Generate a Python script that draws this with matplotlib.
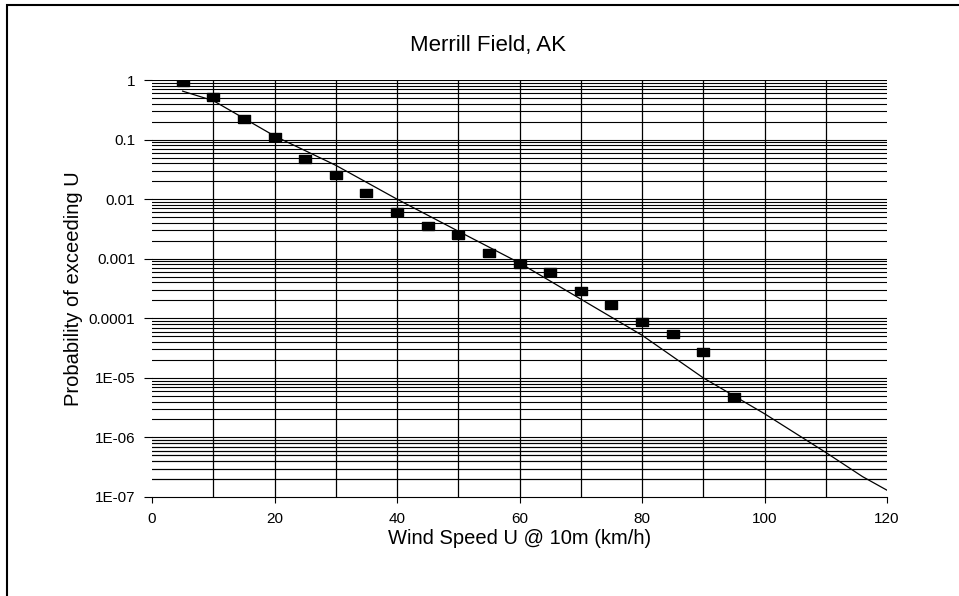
import matplotlib
matplotlib.use("Agg")
import matplotlib.pyplot as plt
from matplotlib.patches import Rectangle
from matplotlib.ticker import FixedLocator, NullFormatter

plt.rcParams['font.family'] = ['Liberation Sans', 'DejaVu Sans']

# Observed exceedance probabilities
wind_speed = [5, 10, 15, 20, 25, 30, 35, 40, 45, 50, 55, 60, 65, 70, 75, 80, 85, 90, 95]
prob_exceed = [0.94, 0.51, 0.222, 0.112, 0.047, 0.0255, 0.0126, 0.006, 0.0036, 0.0025,
               0.00124, 0.00081, 0.00059, 0.00029, 0.000168, 8.6e-5, 5.4e-5, 2.75e-5, 4.7e-6]

# Fitted distribution curve
fit_speed = [5, 10, 20, 30, 40, 50, 60, 70, 80, 90, 100, 110, 116, 120]
fit_prob = [0.65, 0.45, 0.115, 0.037, 0.01, 0.0029, 0.00085, 0.00021, 5.2e-5, 1.0e-5,
            2.5e-6, 5.6e-7, 2.2e-7, 1.3e-7]

x_ticks = [0, 20, 40, 60, 80, 100, 120]
x_grid = [10, 20, 30, 40, 50, 60, 70, 80, 90, 100, 110]
y_ticks = [1, 0.1, 0.01, 0.001, 0.0001, 1e-5, 1e-6, 1e-7]
y_tick_labels = ["1", "0.1", "0.01", "0.001", "0.0001", "1E-05", "1E-06", "1E-07"]

title = "Merrill Field, AK"
x_label = "Wind Speed U @ 10m (km/h)"
y_label = "Probability of exceeding U"

W, H = 959, 596
fig = plt.figure(figsize=(W / 100, H / 100), dpi=100)
fig.patch.set_facecolor("white")

left, right, top, bottom = 152, 887, 80, 497
ax = fig.add_axes([left / W, (H - bottom) / H, (right - left) / W, (bottom - top) / H])
ax.set_yscale("log")
ax.set_xlim(0, 120)
ax.set_ylim(1e-7, 1)

# horizontal grid at every 1..9 within each decade
for dec in y_ticks[:-1]:
    for m in range(1, 10):
        v = dec * m / 10 if m > 1 else dec
        ax.axhline(v, color="black", lw=0.8, zorder=1)
for m in range(2, 10):
    ax.axhline(1e-7 * m, color="black", lw=0.8, zorder=1)
for xv in x_grid:
    ax.axvline(xv, color="black", lw=0.9, zorder=1)

ax.plot(fit_speed, fit_prob, color="black", lw=0.9, zorder=3)
rect_marker = [(-1.5, -1), (1.5, -1), (1.5, 1), (-1.5, 1), (-1.5, -1)]
ax.plot(wind_speed, prob_exceed, linestyle="none", marker=rect_marker,
        markersize=9, color="black", zorder=4)

for side in ("left", "right", "top"):
    ax.spines[side].set_visible(False)
ax.spines["bottom"].set_linewidth(0.8)

ax.xaxis.set_major_locator(FixedLocator(x_ticks))
ax.set_xticklabels([str(v) for v in x_ticks])
ax.yaxis.set_major_locator(FixedLocator(y_ticks))
ax.set_yticklabels(y_tick_labels)
ax.yaxis.set_minor_locator(FixedLocator([]))
ax.yaxis.set_minor_formatter(NullFormatter())
ax.tick_params(axis="x", direction="out", length=4, width=0.8, pad=7, labelsize=11)
ax.tick_params(axis="y", direction="out", length=6, width=0.8, pad=6, labelsize=11)

ax.set_xlabel(x_label, fontsize=14.5, labelpad=2)
ax.set_ylabel(y_label, fontsize=14.5, labelpad=4)

fig.text(488 / W, (H - 45) / H, title, fontsize=16, ha="center", va="center")

fig.add_artist(Rectangle((7 / W, -0.05), 1.0, (H - 5) / H + 0.05,
                         transform=fig.transFigure, fill=False, lw=1.5, color="black"))

fig.savefig("out.png", dpi=100)
